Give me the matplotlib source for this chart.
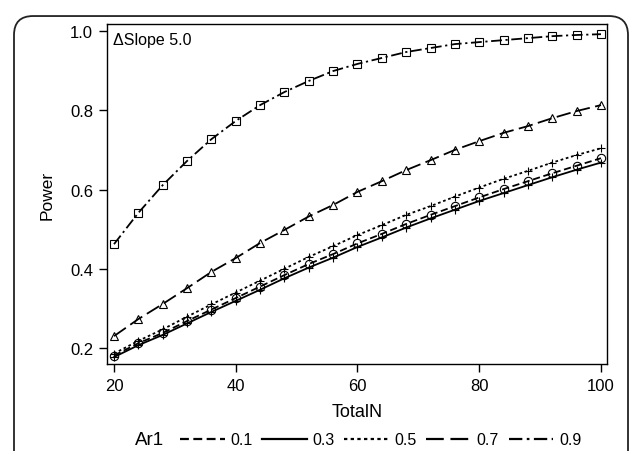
import matplotlib
matplotlib.use("Agg")
import matplotlib.pyplot as plt
from matplotlib.patches import FancyBboxPatch

plt.rcParams['font.family'] = ['Liberation Sans', 'DejaVu Sans']

total_n = [20, 24, 28, 32, 36, 40, 44, 48, 52, 56, 60, 64, 68, 72, 76, 80, 84, 88, 92, 96, 100]
ar1_labels = ['0.1', '0.3', '0.5', '0.7', '0.9']
power_01 = [0.181, 0.212, 0.238, 0.268, 0.297, 0.326, 0.355, 0.384, 0.412, 0.437, 0.464,
            0.488, 0.513, 0.536, 0.558, 0.580, 0.601, 0.621, 0.641, 0.660, 0.679]
power_03 = [0.177, 0.207, 0.233, 0.262, 0.291, 0.319, 0.347, 0.376, 0.403, 0.428, 0.455,
            0.479, 0.504, 0.527, 0.549, 0.571, 0.591, 0.611, 0.631, 0.650, 0.668]
power_05 = [0.186, 0.218, 0.247, 0.279, 0.310, 0.340, 0.370, 0.400, 0.430, 0.457, 0.485,
            0.510, 0.536, 0.558, 0.582, 0.605, 0.627, 0.647, 0.668, 0.687, 0.704]
power_07 = [0.230, 0.273, 0.311, 0.351, 0.392, 0.427, 0.465, 0.498, 0.532, 0.561, 0.594,
            0.621, 0.649, 0.674, 0.700, 0.722, 0.743, 0.760, 0.780, 0.798, 0.813]
power_09 = [0.462, 0.541, 0.611, 0.672, 0.727, 0.773, 0.813, 0.846, 0.874, 0.899, 0.917,
            0.932, 0.947, 0.957, 0.967, 0.972, 0.977, 0.982, 0.987, 0.990, 0.992]

series = [power_01, power_03, power_05, power_07, power_09]
markers = ['o', '+', '+', '^', 's']
dashes = [(4, 2), (), (1.5, 1.5), (8, 3), (6, 2, 1.2, 2)]

fig = plt.figure(figsize=(6.33, 4.52), dpi=100)
# rounded outer frame (runs off the bottom/right like the source image)
frame = FancyBboxPatch((14 / 633, -0.1), 614 / 633, 1.08 - 8 / 452,
                       boxstyle="round,pad=0,rounding_size=0.03",
                       transform=fig.transFigure, fill=False, lw=1.3,
                       ec='#222222', mutation_aspect=633 / 452)
fig.patches.append(frame)

ax = fig.add_axes([107 / 633, 87 / 452, 500 / 633, 340 / 452])
handles = []
for vals, lab, mk, ds in zip(series, ar1_labels, markers, dashes):
    ln, = ax.plot(total_n, vals, color='black', lw=1.3, marker=mk, markersize=6,
                  markerfacecolor='none', markeredgewidth=0.8, label=lab)
    if ds:
        ln.set_dashes(ds)
    h, = ax.plot([], [], color='black', lw=1.6)
    if ds:
        h.set_dashes(ds)
    handles.append(h)

ax.set_xlim(18.85, 100.99)
ax.set_ylim(0.1596, 1.0177)
ax.set_xticks([20, 40, 60, 80, 100])
ax.set_yticks([0.2, 0.4, 0.6, 0.8, 1.0])
ax.set_yticklabels(['0.2', '0.4', '0.6', '0.8', '1.0'])
ax.tick_params(direction='out', length=6, width=1, labelsize=12, colors='black', pad=4)
for sp in ax.spines.values():
    sp.set_linewidth(1)
ax.set_xlabel('TotalN', fontsize=13, labelpad=7)
ax.set_ylabel('Power', fontsize=12.5, labelpad=11)
ax.text(0.012, 0.975, '\u0394Slope 5.0', transform=ax.transAxes, fontsize=11.5,
        va='top', ha='left')

fig.text(135 / 633, 1 - 441 / 452, 'Ar1', fontsize=13.5, va='center', ha='left')
fig.legend(handles, ar1_labels, loc='center left', bbox_to_anchor=(180 / 633, 1 - 441 / 452),
           ncol=5, frameon=False, fontsize=11.5, handlelength=2.8, handletextpad=0.35,
           columnspacing=0.6, borderaxespad=0, borderpad=0)

fig.savefig('out.png', dpi=100)
